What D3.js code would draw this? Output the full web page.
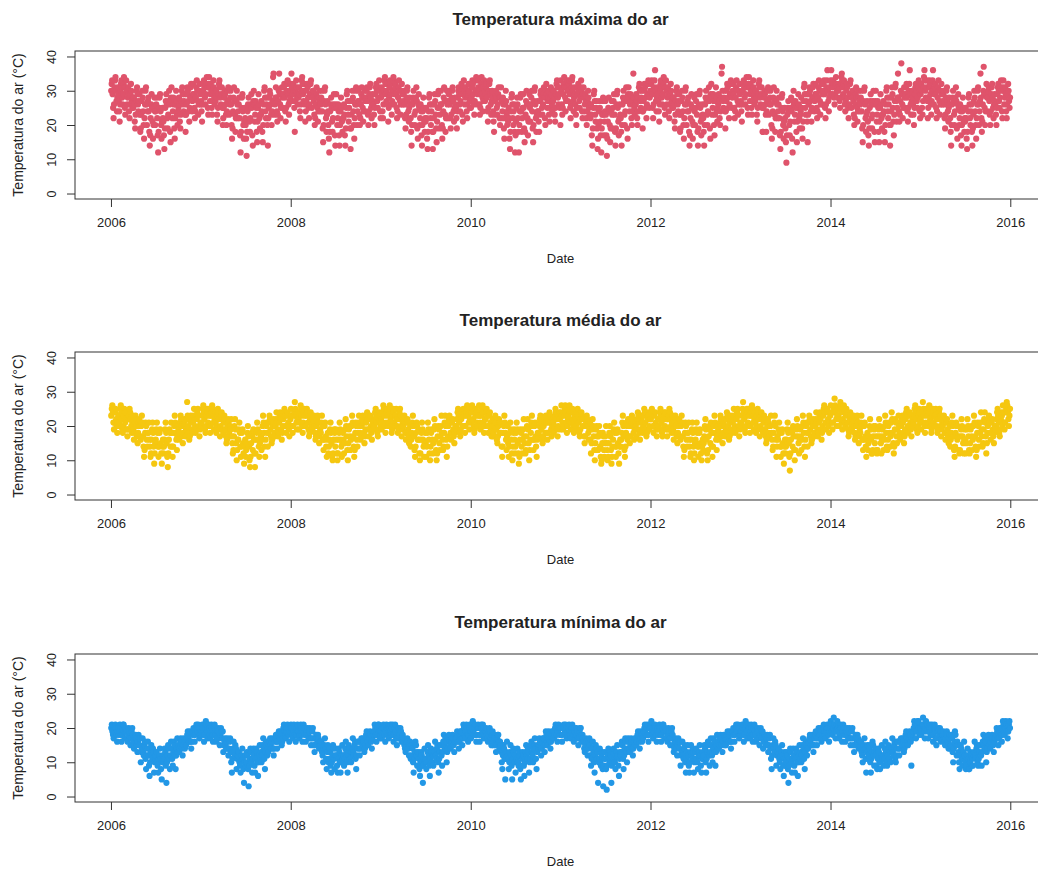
<!DOCTYPE html>
<html>
<head>
<meta charset="utf-8">
<script src="https://cdn.jsdelivr.net/npm/d3@7"></script>
<style>
  body { margin: 0; background: #fff; }
  svg { display: block; }
  text { font-family: "Liberation Sans", Arial, sans-serif; fill: #222; }
</style>
</head>
<body>
<svg id="chart" width="1038" height="869"></svg>
<script>
// Daily air temperature readings (°C), grouped by month, Jan 2006 – Dec 2015.
// Each inner array holds the readings of one month, in date order.
const tmax = [
  // 2006
  [30,32,33,29,25,22,26,31,33,34,30,27,24,28,31,29],[27,24,21,26,30,32,33,31,28,26,29,32,34,31,25,23],[31,33,30,26,28,31,29,24,22,26,29,32,30,27,25,28],
  [25,28,26,21,19,23,27,30,31,29,26,24,27,29,23,18],[19,23,27,30,28,24,20,16,22,26,30,31,26,20,24,27],[28,24,18,14,17,22,26,29,25,21,16,20,25,28,24,20],
  [24,26,28,22,17,12,18,25,28,29,24,20,16,21,25,22],[21,17,13,19,25,27,29,26,22,19,23,27,30,26,18,15],[28,31,27,22,24,28,26,19,16,22,26,30,27,23,20,24],
  [25,28,26,21,19,23,27,30,31,29,26,24,27,29,23,18],[23,26,29,31,30,27,24,21,25,28,31,32,28,24,27,29],[32,29,25,22,24,28,31,33,30,27,23,26,30,32,29,26],
  // 2007
  [27,24,21,26,30,32,33,31,28,26,29,32,34,31,25,23],[32,34,31,27,29,32,30,25,23,27,30,33,31,28,26,29],[27,30,28,23,21,25,29,32,33,31,28,26,29,31,25,20],
  [22,25,28,30,29,26,23,20,24,27,30,31,27,23,26,28],[30,26,20,16,19,24,28,31,27,23,18,22,27,30,26,22],[24,26,28,22,17,12,18,25,28,29,24,20,16,21,25,22],
  [20,16,11,18,24,26,28,25,21,18,22,26,29,25,17,14],[27,30,26,21,23,27,25,18,15,21,25,29,26,22,19,23],[23,27,24,18,15,20,26,30,31,28,24,22,26,28,20,14],
  [22,25,28,30,29,26,23,20,24,27,34,35,27,23,26,28],[31,28,24,21,23,27,30,35,29,26,22,25,29,31,28,25],[29,31,32,28,24,21,25,30,32,33,29,26,23,27,30,28],
  // 2008
  [32,35,31,27,29,32,30,25,18,27,30,33,31,28,26,29],[28,31,29,24,22,26,30,33,34,32,29,27,30,32,26,21],[24,27,30,32,31,28,25,22,26,29,32,33,29,25,28,30],
  [30,27,23,20,22,26,29,31,28,25,21,24,28,30,27,24],[26,28,30,24,19,15,20,27,30,31,26,22,18,23,27,24],[20,16,12,18,24,26,28,25,21,18,22,26,29,25,17,14],
  [26,29,25,20,22,26,24,17,14,20,24,28,25,21,18,22],[22,26,23,17,14,19,25,29,30,27,23,21,25,27,19,13],[19,23,27,30,28,24,20,16,22,26,30,31,26,20,24,27],
  [30,27,23,20,22,26,29,31,28,25,21,24,28,30,27,24],[28,30,31,27,23,20,24,29,31,32,28,25,22,26,29,27],[26,23,20,25,29,31,32,30,27,25,28,31,33,30,24,22],
  // 2009
  [28,31,29,24,22,26,30,33,34,32,29,27,30,32,26,21],[25,28,31,33,32,29,26,23,27,30,33,34,30,26,29,31],[32,29,25,22,24,28,31,33,30,27,23,26,30,32,29,26],
  [27,29,30,26,22,19,23,28,30,31,27,24,21,25,28,26],[22,18,14,20,26,28,30,27,23,20,24,28,31,27,19,16],[26,29,25,20,22,26,24,17,14,20,24,28,25,21,18,22],
  [21,25,22,16,13,18,24,28,29,26,22,20,24,26,18,13],[18,22,26,29,27,23,19,15,21,25,29,30,25,19,23,26],[30,26,20,16,19,24,28,31,27,23,18,22,27,30,26,22],
  [27,29,30,26,22,19,23,28,30,31,27,24,21,25,28,26],[25,22,19,24,28,30,31,29,26,24,27,30,32,29,23,21],[31,33,30,26,28,31,29,24,22,26,29,32,30,27,25,28],
  // 2010
  [25,28,31,33,32,29,26,23,27,30,33,34,30,26,29,31],[33,30,26,23,25,29,32,34,31,28,24,27,31,33,30,27],[29,31,32,28,24,21,25,30,32,33,29,26,23,27,30,28],
  [24,21,18,23,27,29,30,28,25,23,26,29,31,28,22,20],[28,31,27,22,24,28,26,19,16,22,26,30,27,23,20,24],[21,25,22,16,13,18,24,28,29,26,22,20,24,26,18,12],
  [17,21,25,28,26,22,18,12,20,24,28,29,24,18,22,25],[29,25,19,15,18,23,27,30,26,22,17,21,26,29,25,21],[26,28,30,24,19,15,20,27,30,31,26,22,18,23,27,24],
  [24,21,18,23,27,29,30,28,25,23,26,29,31,28,22,20],[30,32,29,25,27,30,28,23,21,25,28,31,29,26,24,27],[27,30,28,23,21,25,29,32,33,31,28,26,29,31,25,20],
  // 2011
  [33,30,26,23,25,29,32,34,31,28,24,27,31,33,30,27],[30,32,33,29,25,22,26,31,33,34,30,27,24,28,31,29],[26,23,20,25,29,31,32,30,27,25,28,31,33,30,24,22],
  [29,31,28,24,26,29,27,22,20,24,27,30,28,25,23,26],[22,26,23,17,14,19,25,29,30,27,23,21,25,27,19,13],[16,20,24,27,25,21,17,12,19,23,27,28,23,17,21,24],
  [27,23,17,11,16,21,25,28,24,20,15,19,24,27,23,19],[25,27,29,23,18,14,19,26,29,30,25,21,17,22,26,23],[22,18,14,20,26,28,30,27,23,20,24,28,31,27,19,16],
  [29,31,28,24,26,29,27,22,20,24,27,35,28,25,23,26],[26,29,27,22,20,24,28,31,32,30,27,25,28,30,24,19],[24,27,30,32,31,28,25,22,26,29,32,33,29,25,28,30],
  // 2012
  [30,32,33,29,25,22,26,31,33,36,30,27,24,28,31,29],[27,24,21,26,30,32,33,31,28,26,29,32,34,31,25,23],[31,33,30,26,28,31,29,24,22,26,29,32,30,27,25,28],
  [25,28,26,21,19,23,27,30,31,29,26,24,27,29,23,18],[19,23,27,30,28,24,20,16,22,26,30,31,26,20,24,27],[28,24,18,14,17,22,26,29,25,21,16,20,25,28,24,20],
  [25,27,29,23,18,14,19,26,29,30,25,21,17,22,26,23],[22,18,14,20,26,28,30,27,23,20,24,28,31,27,19,16],[29,32,28,23,25,29,27,20,17,23,27,31,28,24,21,25],
  [26,29,27,22,20,24,28,35,37,30,27,25,28,30,24,19],[24,27,30,32,31,28,25,22,26,29,32,33,29,25,28,30],[32,29,25,22,24,28,31,33,30,27,23,26,30,32,29,26],
  // 2013
  [27,24,21,26,30,32,33,31,28,26,29,32,34,31,25,23],[32,34,31,27,29,32,30,25,23,27,30,33,31,28,26,29],[27,30,28,23,21,25,29,32,33,31,28,26,29,31,25,18],
  [18,25,28,30,29,26,23,18,24,27,30,31,27,23,26,28],[30,26,20,16,19,24,28,31,27,23,18,22,27,30,26,22],[24,26,28,22,17,13,18,25,28,29,24,20,16,21,25,22],
  [19,15,9,17,23,25,27,24,20,17,21,25,28,24,16,12],[27,30,26,21,23,27,25,18,15,21,25,29,26,22,19,23],[24,28,25,19,16,21,27,31,32,29,25,23,27,29,21,15],
  [23,26,29,31,30,27,24,21,25,28,31,32,28,24,27,29],[32,29,25,22,24,28,31,33,30,27,23,26,30,32,29,26],[30,32,33,29,25,22,26,31,33,36,30,27,24,28,31,29],
  // 2014
  [33,36,32,29,31,33,32,28,26,29,32,34,32,30,28,31],[30,32,31,27,25,28,32,34,35,33,31,29,32,33,28,26],[24,27,30,32,31,28,25,22,26,29,32,33,29,25,28,30],
  [30,27,23,20,22,26,29,31,28,25,21,24,28,30,27,24],[26,28,30,24,19,15,20,27,30,31,26,22,18,23,27,24],[21,17,14,19,25,27,29,26,22,19,23,27,30,26,18,15],
  [27,30,26,21,23,27,25,18,15,21,25,29,26,22,19,23],[23,27,24,18,15,20,26,30,31,28,24,22,26,28,20,14],[20,24,28,31,29,25,21,17,23,27,31,32,27,21,25,28],
  [35,28,24,21,23,27,30,38,29,26,22,25,29,31,28,25],[29,31,32,28,24,21,25,30,32,36,29,26,23,27,30,28],[26,23,20,25,29,31,32,30,27,25,28,31,33,30,24,22],
  // 2015
  [29,32,30,25,23,27,31,34,36,33,30,28,31,33,27,22],[25,28,31,33,32,29,26,23,27,30,33,36,30,26,29,31],[32,29,25,22,24,28,31,33,30,27,23,26,30,32,29,26],
  [27,29,30,26,22,19,23,28,30,31,27,24,21,25,28,26],[22,18,14,20,26,28,30,27,23,20,24,28,31,27,19,16],[26,29,25,20,22,26,24,17,14,20,24,28,25,21,18,22],
  [21,25,22,16,13,18,24,28,29,26,22,20,24,26,18,14],[19,23,27,30,28,24,20,16,22,26,30,31,26,20,24,27],[35,28,22,18,21,26,30,37,29,25,20,24,29,32,28,24],
  [28,30,31,27,23,20,24,29,31,32,28,25,22,26,29,27],[26,23,20,25,29,31,32,30,27,25,28,31,33,30,24,22],[31,33,30,26,28,31,29,24,22,26,29,32,30,27,25,28]
];

const tmed = [
  // 2006
  [23,25,26,24,21,19,21,24,25,22,20,18,21,23],[20,21,23,25,26,24,22,19,18,20,23,25,24,21],[24,22,19,17,19,22,23,25,24,22,20,18,21,23],
  [19,16,18,21,23,22,20,17,15,18,21,22,20,17],[16,20,23,21,17,14,11,13,18,21,20,16,14,18],[18,21,16,14,11,12,16,19,21,18,14,9,12,15],
  [16,19,21,18,14,11,14,18,19,15,12,9,14,16],[12,14,16,19,21,18,15,11,8,12,16,19,18,14],[21,18,14,11,14,18,20,23,21,18,16,13,17,20],
  [19,16,18,21,23,22,20,17,15,18,21,22,20,17],[19,22,27,23,20,18,16,17,21,23,22,19,18,21],[23,25,22,20,18,19,22,24,25,23,20,17,19,21],
  // 2007
  [20,21,23,25,26,24,22,19,18,20,23,25,24,21],[25,23,20,18,20,23,24,26,25,23,21,19,22,24],[21,18,20,23,25,24,22,19,17,20,23,24,22,19],
  [18,21,23,22,19,17,15,16,20,22,21,18,17,20],[19,22,17,15,12,13,17,20,22,19,15,10,13,16],[16,19,21,18,14,11,14,18,19,15,12,9,14,16],
  [11,13,15,18,20,17,14,10,8,11,15,18,17,13],[19,16,12,8,12,16,18,21,19,16,14,11,15,18],[17,13,16,20,23,21,18,14,11,16,20,21,18,14],
  [18,21,23,22,19,17,15,16,20,22,21,18,17,20],[22,24,21,19,17,18,21,23,24,22,19,16,18,20],[22,24,25,23,20,18,20,23,24,21,19,17,20,22],
  // 2008
  [25,23,20,18,20,23,24,27,25,23,21,19,22,24],[22,19,21,24,26,25,23,20,18,21,24,25,23,20],[20,23,25,24,21,19,17,18,22,24,23,20,19,22],
  [21,23,20,18,16,17,20,22,23,21,18,15,17,19],[18,21,23,20,16,13,16,20,21,17,14,11,16,18],[12,14,16,19,21,18,15,11,10,12,16,19,18,14],
  [19,16,12,10,12,16,18,21,19,16,14,11,15,18],[16,12,15,19,22,20,17,13,10,15,19,20,17,13],[16,20,23,21,17,14,11,13,18,21,20,16,14,18],
  [21,23,20,18,16,17,20,22,23,21,18,15,17,19],[21,23,24,22,19,17,19,22,23,20,18,16,19,21],[19,20,22,24,25,23,21,18,17,19,22,24,23,20],
  // 2009
  [22,19,21,24,26,25,23,20,18,21,24,25,23,20],[21,24,26,25,22,20,18,19,23,25,24,21,20,23],[23,25,22,20,18,19,22,24,25,23,20,17,19,21],
  [20,22,23,21,18,16,18,21,22,19,17,15,18,20],[14,16,18,21,23,20,17,13,11,14,18,21,20,16],[19,16,12,10,12,16,18,21,19,16,14,11,15,18],
  [15,11,14,18,21,19,16,12,10,14,18,19,16,12],[15,19,22,20,16,13,10,12,17,20,19,15,13,17],[20,23,18,16,13,14,18,21,23,20,16,11,14,17],
  [20,22,23,21,18,16,18,21,22,19,17,15,18,20],[19,20,22,24,25,23,21,18,17,19,22,24,23,20],[25,23,20,18,20,23,24,26,25,23,21,19,22,24],
  // 2010
  [21,24,26,25,22,20,18,19,23,25,24,21,20,23],[24,26,23,21,19,20,23,25,26,24,21,18,20,22],[22,24,25,23,20,18,20,23,24,21,19,17,20,22],
  [17,18,20,22,23,21,19,16,15,17,20,22,21,18],[21,18,14,11,14,18,20,23,21,18,16,13,17,20],[15,11,14,18,21,19,16,12,10,14,18,19,16,12],
  [14,18,21,19,15,12,9,11,16,19,18,14,12,16],[19,22,17,15,12,13,17,20,22,19,15,10,13,16],[18,21,23,20,16,13,16,20,21,17,14,11,16,18],
  [17,18,20,22,23,21,19,16,15,17,20,22,21,18],[23,21,18,16,18,21,22,24,23,21,19,17,20,22],[21,18,20,23,25,24,22,19,17,20,23,24,22,19],
  // 2011
  [24,26,23,21,19,20,23,25,26,24,21,18,20,22],[23,25,26,24,21,19,21,24,25,22,20,18,21,23],[19,20,22,24,25,23,21,18,17,19,22,24,23,20],
  [22,20,17,15,17,20,21,23,22,20,18,16,19,21],[16,12,15,19,22,20,17,13,10,15,19,20,17,13],[13,17,20,18,14,11,9,10,15,18,17,13,11,15],
  [17,20,15,13,10,11,15,18,20,17,13,9,11,14],[16,19,21,18,14,11,14,18,19,15,12,9,14,16],[14,16,18,21,23,20,17,13,11,14,18,21,20,16],
  [22,20,17,15,17,20,21,23,22,20,18,16,19,21],[20,17,19,22,24,23,21,18,16,19,22,23,21,18],[20,23,25,24,21,19,17,18,22,24,23,20,19,22],
  // 2012
  [22,24,25,23,20,18,20,23,24,21,19,17,20,22],[19,20,22,24,25,23,21,18,17,19,22,24,23,20],[24,22,19,17,19,22,23,25,24,22,20,18,21,23],
  [19,16,18,21,23,22,20,17,15,18,21,22,20,17],[16,20,23,21,17,14,11,13,18,21,20,16,14,18],[18,21,16,14,11,12,16,19,21,18,14,10,12,15],
  [16,19,21,18,14,11,14,18,19,15,12,10,14,16],[13,15,17,20,22,19,16,12,10,13,17,20,19,15],[21,18,14,11,14,18,20,23,21,18,16,13,17,20],
  [19,16,18,21,23,22,20,17,15,18,21,22,20,17],[19,22,24,23,20,18,16,17,21,23,22,19,18,21],[23,25,22,20,18,19,22,24,25,23,20,17,19,21],
  // 2013
  [20,21,23,25,27,24,22,19,18,20,23,25,24,21],[25,23,20,18,20,23,24,26,25,23,21,19,22,24],[21,18,20,23,25,24,22,19,17,20,23,24,22,19],
  [18,21,23,22,19,17,15,16,20,22,21,18,17,20],[20,23,18,16,13,14,18,21,23,20,16,11,14,17],[16,19,21,18,14,11,14,18,19,15,12,9,14,16],
  [12,14,16,19,21,18,15,11,7,12,16,19,18,14],[20,17,13,10,13,17,19,22,20,17,15,12,16,19],[17,13,16,20,23,21,18,14,11,16,20,21,18,14],
  [18,21,23,22,19,17,15,16,20,22,21,18,17,20],[22,24,21,19,17,18,21,23,24,22,19,16,18,20],[23,25,26,24,21,19,21,24,25,22,20,18,21,23],
  // 2014
  [26,24,21,19,21,24,25,28,26,24,22,20,23,25],[23,20,22,25,27,26,24,21,19,22,25,26,24,21],[20,23,25,24,21,19,17,18,22,24,23,20,19,22],
  [21,23,20,18,16,17,20,22,23,21,18,15,17,19],[18,21,23,20,16,13,16,20,21,17,14,11,16,18],[13,15,17,20,22,19,16,12,12,13,17,20,19,15],
  [20,17,13,12,13,17,19,22,20,17,15,12,16,19],[17,13,16,20,23,21,18,14,13,16,20,21,18,14],[17,21,24,22,18,15,12,14,19,22,21,17,15,19],
  [21,23,20,18,16,17,20,22,23,21,18,15,17,19],[22,24,25,23,20,18,20,23,24,21,19,17,20,22],[20,21,23,25,26,24,22,19,18,20,23,25,24,21],
  // 2015
  [22,19,21,24,27,25,23,20,18,21,24,25,23,20],[21,24,26,25,22,20,18,19,23,25,24,21,20,23],[23,25,22,20,18,19,22,24,25,23,20,17,19,21],
  [20,22,23,21,18,16,18,21,22,19,17,15,18,20],[14,16,18,21,23,20,17,13,11,14,18,21,20,16],[20,17,13,12,13,17,19,22,20,17,15,12,16,19],
  [16,12,15,19,22,20,17,13,12,15,19,20,17,13],[16,20,23,21,17,14,11,13,18,21,20,16,14,18],[21,24,19,17,14,15,19,22,24,21,17,12,15,18],
  [20,22,23,21,18,16,18,21,22,19,17,15,18,20],[19,20,22,24,25,23,21,18,17,19,22,24,23,20],[26,24,21,19,21,24,25,27,26,24,22,20,23,25]
];

const tmin = [
  // 2006
  [20,21,19,18,17,19,20,21,20,18,16,19,20],[18,19,21,20,18,16,18,20,21,21,19,17,19],[20,19,17,16,18,20,19,17,15,17,19,20,18],
  [16,14,15,17,18,17,15,13,16,18,17,15,17],[10,13,14,17,13,12,15,16,11,8,12,14,16],[12,9,6,10,13,15,12,11,14,13,7,10,11],
  [12,13,10,9,7,11,12,14,11,8,5,10,12],[10,11,14,13,9,4,10,12,15,14,11,8,12],[16,14,11,9,13,16,15,12,8,12,14,17,13],
  [15,13,14,16,17,16,14,12,15,17,16,14,16],[15,17,18,19,17,16,18,19,16,14,16,18,19],[20,18,16,18,20,21,20,19,21,20,17,18,19],
  // 2007
  [18,19,21,20,18,16,18,20,22,21,19,17,19],[21,20,18,17,19,21,20,18,16,18,20,21,19],[18,16,17,19,20,19,17,15,18,20,19,17,19],
  [13,15,16,17,15,14,16,17,14,12,14,16,17],[13,10,7,11,14,16,13,12,15,14,8,11,12],[12,13,10,9,7,11,12,14,11,8,4,10,12],
  [9,10,13,12,8,3,9,11,14,13,10,7,11],[14,12,9,7,11,14,13,10,6,10,12,15,11],[13,10,12,15,17,14,11,8,13,16,15,12,14],
  [13,15,16,17,15,14,16,17,14,12,14,16,17],[18,16,14,16,18,19,18,17,19,18,15,16,17],[20,21,19,18,17,19,20,21,20,18,16,19,20],
  // 2008
  [21,20,18,17,19,21,20,18,16,18,20,21,19],[19,17,18,20,21,20,18,16,19,21,20,18,20],[16,18,19,20,18,17,19,20,17,15,17,19,20],
  [17,15,13,15,17,18,17,16,18,17,14,15,16],[15,16,13,12,10,14,15,17,14,11,8,13,15],[10,11,14,13,9,7,10,12,15,14,11,8,12],
  [14,12,9,7,11,14,13,10,7,10,12,15,11],[12,9,11,14,16,13,10,7,12,15,14,11,13],[10,13,14,17,13,12,15,16,11,8,12,14,16],
  [16,14,12,14,16,17,16,15,17,16,13,14,15],[18,19,17,16,15,17,18,19,18,16,14,17,18],[18,19,21,20,18,16,18,20,21,21,19,17,19],
  // 2009
  [19,17,18,20,21,20,18,16,19,21,20,18,20],[17,19,20,21,19,18,20,21,18,16,18,20,21],[19,17,15,17,19,20,19,18,20,19,16,17,18],
  [16,17,15,14,13,15,16,17,16,14,12,15,16],[11,12,15,14,10,7,11,13,16,15,12,9,13],[13,11,8,6,10,13,12,9,4,9,11,14,10],
  [11,8,10,13,15,12,9,6,11,14,13,10,12],[9,12,13,16,12,11,14,15,10,7,11,13,15],[15,12,9,13,16,18,15,14,17,16,10,13,14],
  [17,18,16,15,14,16,17,18,17,15,13,16,17],[16,17,19,18,16,14,16,18,19,19,17,15,17],[21,20,18,17,19,21,20,18,16,18,20,21,19],
  // 2010
  [17,19,20,22,19,18,20,21,18,16,18,20,21],[20,18,16,18,20,21,20,19,21,20,17,18,19],[19,20,18,17,16,18,19,20,19,17,15,18,19],
  [15,16,18,17,15,13,15,17,18,18,16,14,16],[15,13,10,8,12,15,14,11,5,11,13,16,12],[11,8,10,13,15,12,9,5,11,14,13,10,12],
  [7,10,11,14,10,9,12,13,8,5,9,11,13],[12,9,6,10,13,15,12,11,14,13,7,10,11],[15,16,13,12,10,14,15,17,14,11,8,13,15],
  [14,15,17,16,14,12,14,16,17,17,15,13,15],[19,18,16,15,17,19,18,16,14,16,18,19,17],[19,17,18,20,21,20,18,16,19,21,20,18,20],
  // 2011
  [20,18,16,18,20,21,20,19,21,20,17,18,19],[20,21,19,18,17,19,20,21,20,18,16,19,20],[17,18,20,19,17,15,17,19,20,20,18,16,18],
  [17,16,14,13,15,17,16,14,12,14,16,17,15],[12,9,11,14,16,13,10,7,12,15,14,11,13],[4,10,11,14,10,9,12,13,8,3,9,11,13],
  [11,8,2,9,12,14,11,10,13,12,4,9,10],[13,14,11,10,8,12,13,15,12,9,6,11,13],[12,13,16,15,11,8,12,14,17,16,13,10,14],
  [17,16,14,13,15,17,16,14,12,14,16,17,15],[17,15,16,18,19,18,16,14,17,19,18,16,18],[17,19,20,21,19,18,20,21,18,16,18,20,21],
  // 2012
  [20,22,19,18,17,19,20,21,20,18,16,19,20],[18,19,21,20,18,16,18,20,21,21,19,17,19],[20,19,17,16,18,20,19,17,15,17,19,20,18],
  [15,13,14,16,17,16,14,12,15,17,16,14,16],[9,12,13,16,12,11,14,15,10,7,11,13,15],[12,9,7,10,13,15,12,11,14,13,7,10,11],
  [13,14,11,10,8,12,13,15,12,9,7,11,13],[11,12,15,14,10,7,11,13,16,15,12,9,13],[17,15,12,10,14,17,16,13,9,13,15,18,14],
  [16,14,15,17,18,17,15,13,16,18,17,15,17],[15,17,18,19,17,16,18,19,16,14,16,18,19],[20,18,16,18,20,21,20,19,21,20,17,18,19],
  // 2013
  [18,19,21,20,18,16,18,20,22,21,19,17,19],[21,20,18,17,19,21,20,18,16,18,20,21,19],[18,16,17,19,20,19,17,15,18,20,19,17,19],
  [14,16,17,18,16,15,17,18,15,13,15,17,18],[14,11,8,12,15,17,14,13,16,15,9,12,13],[13,14,11,10,8,12,13,15,12,9,6,11,13],
  [9,10,13,12,8,4,9,11,14,13,10,7,11],[14,12,9,7,11,14,13,10,6,10,12,15,11],[13,10,12,15,17,14,11,8,13,16,15,12,14],
  [14,16,17,18,16,15,17,18,15,13,15,17,18],[19,17,15,17,19,20,19,18,20,19,16,17,18],[20,21,19,18,17,19,20,21,20,18,16,19,20],
  // 2014
  [22,21,19,18,20,23,21,19,17,19,21,22,20],[19,17,18,20,21,20,18,16,19,21,20,18,20],[16,18,19,20,18,17,19,20,17,15,17,19,20],
  [17,15,13,15,17,18,17,16,18,17,14,15,16],[15,16,13,12,10,14,15,17,14,11,7,13,15],[11,12,15,14,10,7,11,13,16,15,12,9,13],
  [14,12,9,8,11,14,13,10,8,10,12,15,11],[12,9,11,14,16,13,10,9,12,15,14,11,13],[10,13,14,17,13,12,15,16,11,10,12,14,16],
  [16,14,12,14,16,17,16,15,17,16,13,14,15],[18,19,17,16,15,17,18,19,18,16,9,17,18],[19,20,22,21,19,17,19,21,22,22,20,18,20],
  // 2015
  [20,18,19,21,23,21,19,17,20,22,21,19,21],[17,19,20,21,19,18,20,21,18,16,18,20,21],[19,17,15,17,19,20,19,18,20,19,16,17,18],
  [18,19,17,16,15,17,18,19,18,16,14,17,18],[14,15,18,17,13,10,14,16,19,18,15,12,16],[15,13,10,8,12,15,14,11,9,11,13,16,12],
  [10,8,9,12,14,11,8,8,10,13,12,9,11],[9,12,13,16,12,11,14,15,10,9,11,13,15],[15,12,9,13,16,18,15,14,17,16,10,13,14],
  [17,18,16,15,14,16,17,18,17,15,13,16,17],[17,18,20,19,17,15,17,19,20,20,18,16,18],[22,21,19,18,20,22,21,19,17,19,21,22,20]
];

const panelTitles = ["Temperatura máxima do ar", "Temperatura média do ar", "Temperatura mínima do ar"];
const yTicks = [0, 10, 20, 30, 40];
const yearTicks = ["2006", "2008", "2010", "2012", "2014", "2016"];
const xTitle = "Date";
const yTitle = "Temperatura do ar (°C)";

// ---- layout ----
const svg = d3.select("#chart");
const plotLeft = 75, plotRight = 1046, plotH = 148;
const panelTops = [51, 352, 654];
const colors = ["#DF536B", "#F5C710", "#2297E6"];

const months = d3.timeMonth.range(new Date(2006, 0, 1), new Date(2016, 0, 1));
const firstDay = new Date(2006, 0, 1), lastDay = new Date(2015, 11, 31);
const xPad = (lastDay - firstDay) * 0.04;
const x = d3.scaleTime()
  .domain([new Date(+firstDay - xPad), new Date(+lastDay + xPad)])
  .range([plotLeft, plotRight]);

const yPad = (40 - 0) * 0.04;

// spread each month's readings evenly over the days of that month
function toPoints(series) {
  const pts = [];
  series.forEach((vals, m) => {
    const m0 = months[m], m1 = d3.timeMonth.offset(m0, 1);
    const step = (m1 - m0) / vals.length;
    vals.forEach((v, j) => pts.push({ date: new Date(+m0 + (j + 0.5) * step), value: v }));
  });
  return pts;
}

[tmax, tmed, tmin].forEach((series, i) => {
  const top = panelTops[i];
  const bottom = top + plotH;
  const y = d3.scaleLinear().domain([0 - yPad, 40 + yPad]).range([bottom, top]);
  const g = svg.append("g");

  // points
  g.append("g").selectAll("circle")
    .data(toPoints(series))
    .join("circle")
    .attr("cx", d => x(d.date))
    .attr("cy", d => y(d.value))
    .attr("r", 3.1)
    .attr("fill", colors[i]);

  // frame
  g.append("rect")
    .attr("x", plotLeft).attr("y", top)
    .attr("width", plotRight - plotLeft).attr("height", plotH)
    .attr("fill", "none").attr("stroke", "#333").attr("stroke-width", 1);

  // y axis
  const ya = g.append("g").attr("transform", `translate(${plotLeft},0)`)
    .call(d3.axisLeft(y).tickValues(yTicks).tickSize(8).tickFormat(d3.format("d")));
  ya.select(".domain").remove();
  ya.selectAll(".tick line").attr("stroke", "#333");
  ya.selectAll(".tick text")
    .attr("x", null).attr("dy", "0.35em")
    .attr("transform", "translate(-23,0) rotate(-90)")
    .attr("text-anchor", "middle")
    .style("font-size", "12.5px").attr("fill", "#222");

  // x axis
  const tickDates = yearTicks.map(t => new Date(+t, 0, 1));
  const xa = g.append("g").attr("transform", `translate(0,${bottom})`)
    .call(d3.axisBottom(x).tickValues(tickDates).tickSize(8).tickFormat((d, k) => yearTicks[k]));
  xa.select(".domain").remove();
  xa.selectAll(".tick line").attr("stroke", "#333");
  xa.selectAll(".tick text")
    .attr("y", 19).attr("dy", "0.71em")
    .style("font-size", "13px").attr("fill", "#222");

  // titles
  svg.append("text")
    .attr("x", (plotLeft + plotRight) / 2).attr("y", top - 26)
    .attr("text-anchor", "middle")
    .style("font-size", "17px").style("font-weight", "bold").attr("fill", "#111")
    .text(panelTitles[i]);

  svg.append("text")
    .attr("x", (plotLeft + plotRight) / 2).attr("y", bottom + 64)
    .attr("text-anchor", "middle")
    .style("font-size", "13px")
    .text(xTitle);

  svg.append("text")
    .attr("transform", `translate(23,${top + plotH / 2}) rotate(-90)`)
    .attr("text-anchor", "middle")
    .style("font-size", "14px")
    .text(yTitle);
});
</script>
</body>
</html>
